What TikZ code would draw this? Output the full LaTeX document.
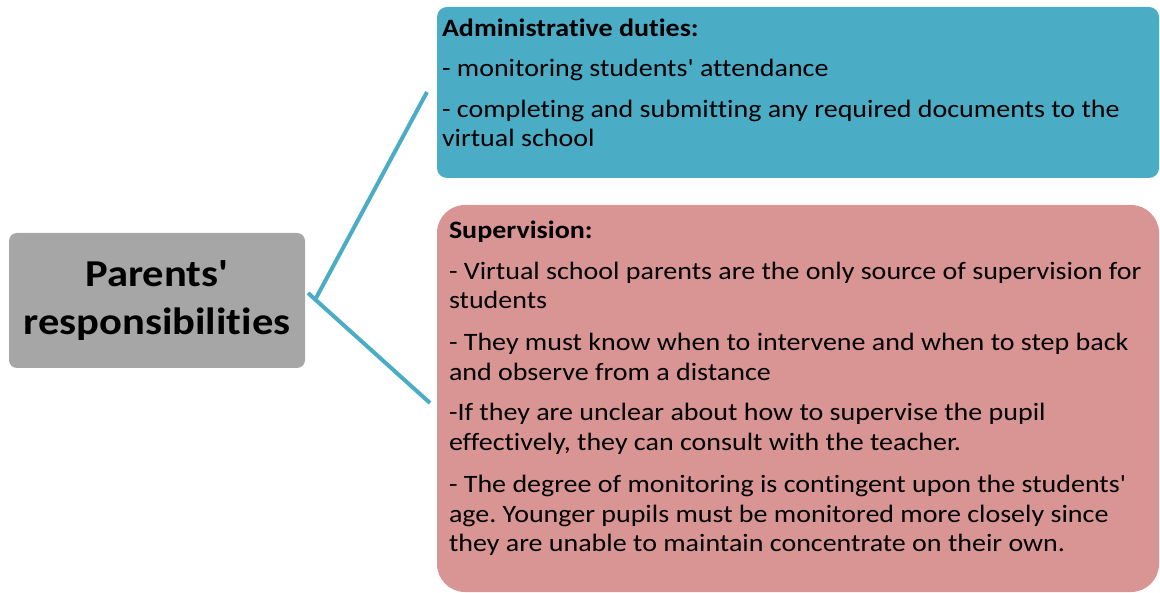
\documentclass[tikz,border=0pt]{standalone}
\usepackage{fontspec}
\setmainfont{Carlito}[Ligatures={TeXOff,NoCommon},FakeStretch=1.12]
\frenchspacing
\definecolor{adminblue}{HTML}{4BACC6}
\definecolor{superpink}{HTML}{D99594}
\definecolor{parentgray}{HTML}{A6A6A6}
\definecolor{linkblue}{HTML}{4BACC6}
\begin{document}
\begin{tikzpicture}[x=1pt,y=-1pt,
  boxbase/.style={draw=none,inner sep=0pt,outer sep=0pt},
  bodytext/.style={anchor=north west,inner sep=0pt,outer sep=0pt,align=left,
    font=\fontsize{25}{29.5}\selectfont},
  link/.style={draw=linkblue,line width=4pt}]
\useasboundingbox (0,0) rectangle (1160,593);
% boxes
\fill[parentgray,rounded corners=8pt] (9,233) rectangle (305,368);
\node[boxbase] (parents) at (157,300.5) {};
\fill[adminblue,rounded corners=10pt] (437,7) rectangle (1159,178);
\node[boxbase] (admin) at (798,92.5) {};
\fill[superpink,rounded corners=28pt] (437,205) rectangle (1159,592);
\node[boxbase] (super) at (798,398.5) {};
% parent text
\node[inner sep=0pt,align=center,font=\bfseries\fontsize{38}{48}\selectfont] (ptext) at (157,301) {Parents'\\responsibilities};
% connectors
\coordinate (upend) at (427,92);
\coordinate (lowend) at (430,403);
\coordinate (joint) at (315,300);
\coordinate (tick) at (308,293);
\draw[link] (upend) -- (joint);
\draw[link] (tick) -- (lowend);
% admin text
\node[bodytext] (admintxt) at (442,18.5) {\textbf{Administrative duties:}\\[10.5pt]
- monitoring students' attendance\\[11.5pt]
- completing and submitting any required documents to the\\
virtual school};
% supervision text
\node[bodytext] (supertxt) at (449,220.5) {\textbf{Supervision:}\\[11.5pt]
- Virtual school parents are the only source of supervision for\\
students\\[12.5pt]
- They must know when to intervene and when to step back\\
and observe from a distance\\[11pt]
-If they are unclear about how to supervise the pupil\\
effectively, they can consult with the teacher.\\[13pt]
- The degree of monitoring is contingent upon the students'\\
age. Younger pupils must be monitored more closely since\\
they are unable to maintain concentrate on their own.};
\end{tikzpicture}
\end{document}
